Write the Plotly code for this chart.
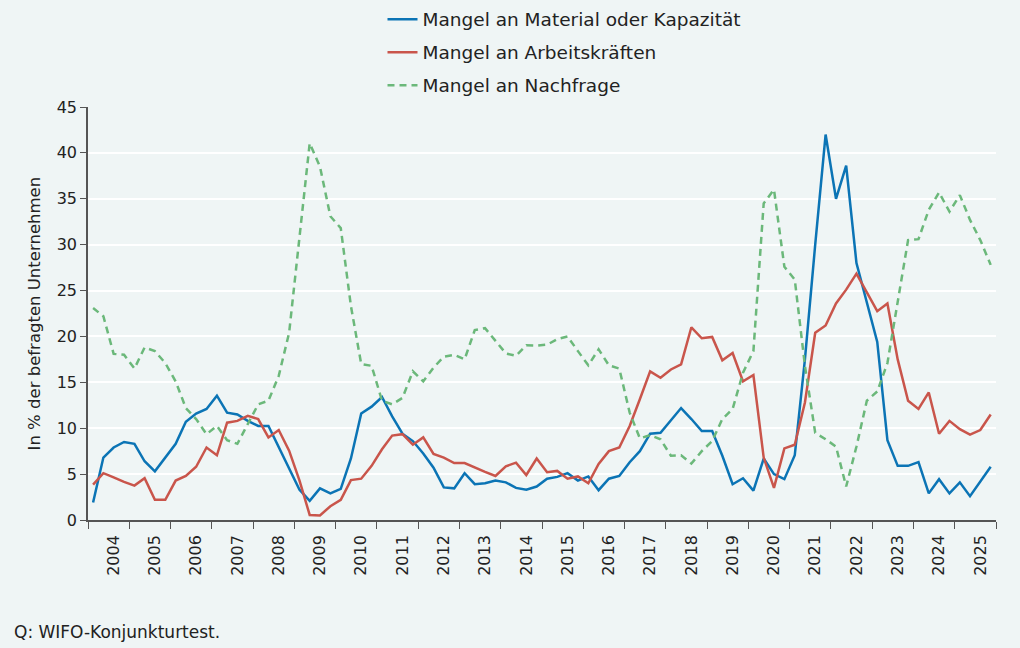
import pandas as pd
import plotly.graph_objects as go

# Quarterly survey results 2004Q1 - 2025Q4, in % of firms
quarters = pd.date_range("2004-01-01", periods=88, freq="QS") + pd.Timedelta(days=45)

material = [
    1.9, 6.8, 7.9, 8.5, 8.3, 6.4, 5.3, 6.8, 8.3, 10.7, 11.6, 12.1,
    13.55, 11.7, 11.5, 10.8, 10.25, 10.25, 7.9, 5.6, 3.3, 2.1,
    3.45, 2.9, 3.4, 6.7, 11.6, 12.35, 13.4, 11.3, 9.4, 8.6, 7.25, 5.7,
    3.55, 3.45, 5.1, 3.9, 4.0, 4.3, 4.1, 3.5, 3.3, 3.65,
    4.5, 4.7, 5.1, 4.3, 4.75, 3.25, 4.5, 4.8, 6.3, 7.5, 9.4, 9.5,
    10.9, 12.2, 11.0, 9.7, 9.7, 7.0, 3.9, 4.55, 3.2, 6.7,
    5.0, 4.45, 7.05, 17.5, 30.0, 42.0, 35.0, 38.6, 28.0, 23.7, 19.4, 8.7,
    5.9, 5.9, 6.3, 2.9, 4.45, 2.9, 4.1, 2.6, 4.2, 5.8,
]
labour = [
    3.85, 5.1, 4.65, 4.15, 3.75, 4.55, 2.2, 2.2, 4.3, 4.8, 5.8, 7.9,
    7.05, 10.6, 10.8, 11.35, 11.0, 9.0, 9.8, 7.55, 4.3, 0.55,
    0.5, 1.5, 2.2, 4.35, 4.5, 5.9, 7.7, 9.2, 9.35, 8.2, 9.0, 7.2,
    6.8, 6.2, 6.2, 5.7, 5.25, 4.8, 5.85, 6.25, 4.9, 6.7,
    5.2, 5.35, 4.5, 4.75, 4.0, 6.1, 7.5, 7.9, 10.25, 13.15, 16.2, 15.5,
    16.4, 16.95, 21.0, 19.8, 19.95, 17.4, 18.2, 15.1, 15.8, 6.8,
    3.5, 7.8, 8.2, 12.8, 20.4, 21.2, 23.6, 25.1, 26.85, 24.8, 22.75, 23.6,
    17.5, 13.0, 12.1, 13.9, 9.4, 10.8, 9.9, 9.3, 9.8, 11.5,
]
demand = [
    23.1, 22.2, 18.1, 18.0, 16.5, 18.8, 18.4, 17.1, 15.1, 12.2, 11.0, 9.35,
    10.25, 8.7, 8.3, 10.4, 12.6, 13.0, 15.7, 20.4, 30.5, 41.05,
    38.5, 33.1, 31.8, 23.3, 17.0, 16.8, 13.0, 12.6, 13.3, 16.2, 15.1, 16.6,
    17.8, 18.0, 17.5, 20.7, 20.9, 19.5, 18.15, 17.9, 19.05, 19.0,
    19.1, 19.7, 20.0, 18.4, 16.85, 18.6, 16.85, 16.5, 11.7, 8.9, 9.25, 8.8,
    7.0, 7.05, 6.15, 7.5, 8.6, 11.0, 12.1, 16.05, 18.4, 34.5,
    36.0, 27.6, 26.2, 16.8, 9.5, 8.8, 8.0, 3.65, 8.0, 13.0, 14.0, 17.1,
    24.0, 30.5, 30.6, 33.8, 35.7, 33.6, 35.4, 32.7, 30.5, 27.8,
]

names = ["Mangel an Material oder Kapazität", "Mangel an Arbeitskräften", "Mangel an Nachfrage"]

bg = "#eff5f5"
font = "DejaVu Sans"

fig = go.Figure()
fig.add_trace(go.Scatter(x=quarters, y=material, mode="lines", name=names[0], legendgroup="m",
                         line=dict(color="#0b74b5", width=2.5)))
fig.add_trace(go.Scatter(x=quarters, y=labour, mode="lines", name=names[1], legendgroup="a",
                         line=dict(color="#c9554b", width=2.5)))
fig.add_trace(go.Scatter(x=quarters, y=demand, mode="lines", name=names[2], legendgroup="n",
                         line=dict(color="#6bb87a", width=2.5, dash="7px,5px")))

fig.update_layout(
    width=1020, height=648,
    paper_bgcolor=bg, plot_bgcolor=bg,
    margin=dict(l=88, r=24, t=107, b=128, autoexpand=False),
    font=dict(family=font, size=16, color="#222222"),
    showlegend=True,
    legend=dict(orientation="v", xref="container", x=0.375, xanchor="left",
                yref="container", y=0.999, yanchor="top",
                font=dict(size=18.5), bgcolor="rgba(0,0,0,0)",
                tracegroupgap=6),
)

fig.update_xaxes(
    type="date", range=["2004-01-01", "2026-01-01"],
    tick0="2004-01-01", dtick="M12", ticklabelmode="period", tickformat="%Y",
    tickangle=-90, ticks="outside", ticklen=7, tickcolor="#555555",
    ticklabelshift=5,
    showline=True, linecolor="#555555", linewidth=1.5, showgrid=False,
    tickfont=dict(size=16),
)
fig.update_yaxes(
    range=[0, 45], dtick=5, ticks="outside", ticklen=6, tickcolor="#555555",
    showline=True, linecolor="#555555", linewidth=1.5,
    gridcolor="white", gridwidth=2, zeroline=False,
    tickfont=dict(size=16),
)

# axis title and source note
fig.add_annotation(text="In % der befragten Unternehmen", xref="paper", yref="paper",
                   x=-0.0584, y=0.5, xanchor="center", yanchor="middle", textangle=-90,
                   showarrow=False, font=dict(size=16.5))
fig.add_annotation(text="Q: WIFO-Konjunkturtest.", xref="paper", yref="paper",
                   x=-0.084, y=-0.27, xanchor="left", yanchor="middle",
                   showarrow=False, font=dict(size=17))

fig.write_html(
    "out.html",
    config={"displayModeBar": False},
    post_script="document.body.style.margin='0';document.body.style.background='" + bg + "';",
)
